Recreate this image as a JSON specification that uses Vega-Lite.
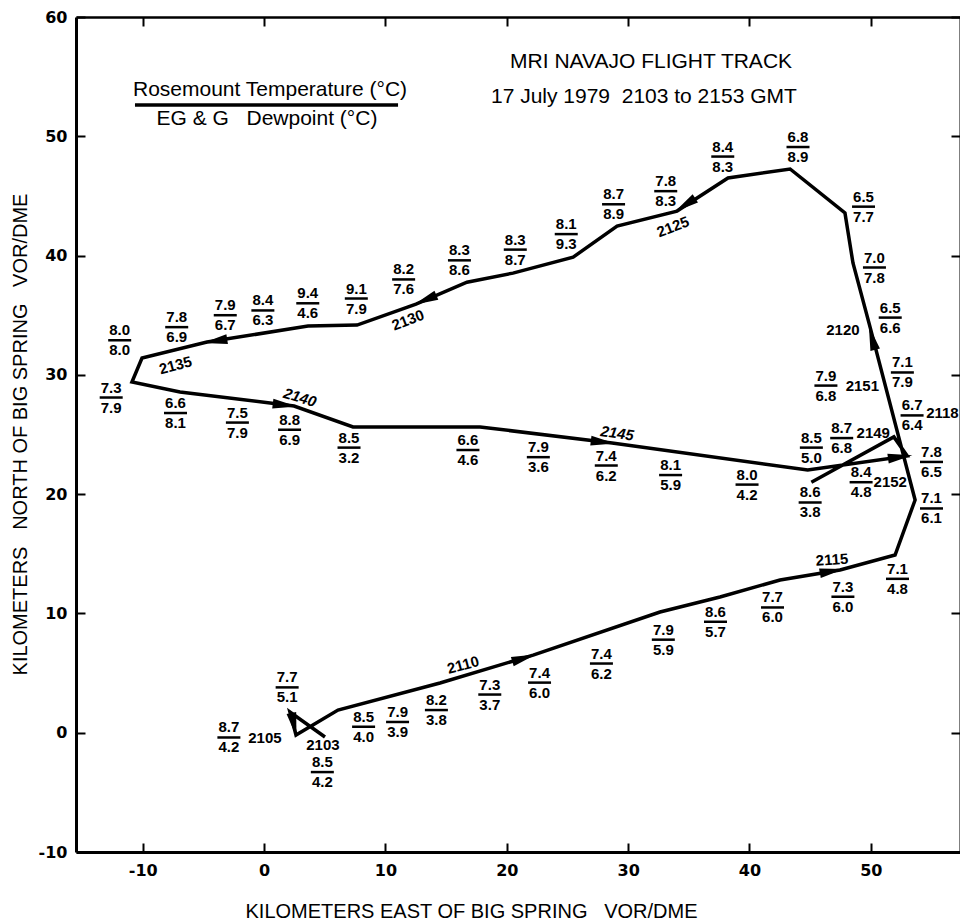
{
  "$schema": "https://vega.github.io/schema/vega-lite/v6.json",
  "width": 884,
  "height": 835,
  "autosize": {"type": "none"},
  "padding": {"left": 76, "top": 17, "right": 0, "bottom": 69},
  "background": "white",
  "config": {"view": {"stroke": null}, "font": "Liberation Sans"},
  "datasets": {
    "track": [
      {"seq": 1, "x": 5.02, "y": -0.36},
      {"seq": 2, "x": 2.13, "y": 1.73},
      {"seq": 3, "x": 2.63, "y": -0.19},
      {"seq": 4, "x": 6.09, "y": 1.9},
      {"seq": 5, "x": 14.5, "y": 4.17},
      {"seq": 6, "x": 22.17, "y": 6.51},
      {"seq": 7, "x": 32.63, "y": 10.12},
      {"seq": 8, "x": 37.57, "y": 11.38},
      {"seq": 9, "x": 42.52, "y": 12.8},
      {"seq": 10, "x": 47.46, "y": 13.64},
      {"seq": 11, "x": 52.0, "y": 14.9},
      {"seq": 12, "x": 53.65, "y": 19.51},
      {"seq": 13, "x": 49.94, "y": 34.0},
      {"seq": 14, "x": 48.53, "y": 39.38},
      {"seq": 15, "x": 47.87, "y": 43.57},
      {"seq": 16, "x": 43.35, "y": 47.26},
      {"seq": 17, "x": 38.23, "y": 46.5},
      {"seq": 18, "x": 34.03, "y": 43.73},
      {"seq": 19, "x": 29.09, "y": 42.47},
      {"seq": 20, "x": 25.47, "y": 39.87},
      {"seq": 21, "x": 20.51, "y": 38.53},
      {"seq": 22, "x": 16.72, "y": 37.77},
      {"seq": 23, "x": 12.52, "y": 35.93},
      {"seq": 24, "x": 7.66, "y": 34.17},
      {"seq": 25, "x": 3.62, "y": 34.09},
      {"seq": 26, "x": -4.7, "y": 32.75},
      {"seq": 27, "x": -10.06, "y": 31.41},
      {"seq": 28, "x": -10.89, "y": 29.4},
      {"seq": 29, "x": -6.93, "y": 28.56},
      {"seq": 30, "x": 2.47, "y": 27.39},
      {"seq": 31, "x": 7.33, "y": 25.63},
      {"seq": 32, "x": 17.8, "y": 25.63},
      {"seq": 33, "x": 28.68, "y": 24.29},
      {"seq": 34, "x": 44.8, "y": 22.02},
      {"seq": 35, "x": 53.0, "y": 23.2},
      {"seq": 36, "x": 51.9, "y": 24.8},
      {"seq": 37, "x": 45.1, "y": 21.0}
    ],
    "arrows": [
      {"x": 2.46, "y": 0.65, "heading": 168},
      {"x": 21.42, "y": 6.26, "heading": 73},
      {"x": 46.8, "y": 13.55, "heading": 80},
      {"x": 50.1, "y": 33.1, "heading": -15},
      {"x": 34.69, "y": 44.24, "heading": -123},
      {"x": 13.27, "y": 36.27, "heading": -113},
      {"x": -4.04, "y": 32.83, "heading": -99},
      {"x": 1.72, "y": 27.47, "heading": 97},
      {"x": 27.93, "y": 24.37, "heading": 97},
      {"x": 52.42, "y": 23.12, "heading": 82}
    ],
    "obs": [
      {"x": -11.9, "y": 32.9, "t": "8.0", "d": "8.0"},
      {"x": -12.6, "y": 28.1, "t": "7.3", "d": "7.9"},
      {"x": -7.2, "y": 34.0, "t": "7.8", "d": "6.9"},
      {"x": -3.2, "y": 35.0, "t": "7.9", "d": "6.7"},
      {"x": -0.1, "y": 35.4, "t": "8.4", "d": "6.3"},
      {"x": 3.6, "y": 36.0, "t": "9.4", "d": "4.6"},
      {"x": 7.6, "y": 36.4, "t": "9.1", "d": "7.9"},
      {"x": 11.5, "y": 38.0, "t": "8.2", "d": "7.6"},
      {"x": 16.1, "y": 39.6, "t": "8.3", "d": "8.6"},
      {"x": 20.7, "y": 40.5, "t": "8.3", "d": "8.7"},
      {"x": 24.9, "y": 41.8, "t": "8.1", "d": "9.3"},
      {"x": 28.8, "y": 44.3, "t": "8.7", "d": "8.9"},
      {"x": 33.1, "y": 45.4, "t": "7.8", "d": "8.3"},
      {"x": 37.8, "y": 48.3, "t": "8.4", "d": "8.3"},
      {"x": 44.0, "y": 49.1, "t": "6.8", "d": "8.9"},
      {"x": 49.4, "y": 44.1, "t": "6.5", "d": "7.7"},
      {"x": 50.3, "y": 39.0, "t": "7.0", "d": "7.8"},
      {"x": 51.6, "y": 34.8, "t": "6.5", "d": "6.6"},
      {"x": 52.6, "y": 30.2, "t": "7.1", "d": "7.9"},
      {"x": 46.3, "y": 29.1, "t": "7.9", "d": "6.8"},
      {"x": 53.4, "y": 26.6, "t": "6.7", "d": "6.4"},
      {"x": 47.6, "y": 24.7, "t": "8.7", "d": "6.8"},
      {"x": 45.1, "y": 23.9, "t": "8.5", "d": "5.0"},
      {"x": 55.0, "y": 22.7, "t": "7.8", "d": "6.5"},
      {"x": 49.2, "y": 21.0, "t": "8.4", "d": "4.8"},
      {"x": 45.0, "y": 19.3, "t": "8.6", "d": "3.8"},
      {"x": 55.0, "y": 18.8, "t": "7.1", "d": "6.1"},
      {"x": 52.2, "y": 12.9, "t": "7.1", "d": "4.8"},
      {"x": 47.7, "y": 11.4, "t": "7.3", "d": "6.0"},
      {"x": 41.9, "y": 10.5, "t": "7.7", "d": "6.0"},
      {"x": 37.2, "y": 9.3, "t": "8.6", "d": "5.7"},
      {"x": 32.9, "y": 7.8, "t": "7.9", "d": "5.9"},
      {"x": 27.8, "y": 5.8, "t": "7.4", "d": "6.2"},
      {"x": 22.7, "y": 4.2, "t": "7.4", "d": "6.0"},
      {"x": 18.6, "y": 3.2, "t": "7.3", "d": "3.7"},
      {"x": 14.2, "y": 1.9, "t": "8.2", "d": "3.8"},
      {"x": 11.0, "y": 0.9, "t": "7.9", "d": "3.9"},
      {"x": 8.2, "y": 0.5, "t": "8.5", "d": "4.0"},
      {"x": 4.8, "y": -3.3, "t": "8.5", "d": "4.2"},
      {"x": -2.9, "y": -0.4, "t": "8.7", "d": "4.2"},
      {"x": 1.9, "y": 3.8, "t": "7.7", "d": "5.1"},
      {"x": -7.3, "y": 26.8, "t": "6.6", "d": "8.1"},
      {"x": -2.2, "y": 26.0, "t": "7.5", "d": "7.9"},
      {"x": 2.1, "y": 25.4, "t": "8.8", "d": "6.9"},
      {"x": 7.0, "y": 23.9, "t": "8.5", "d": "3.2"},
      {"x": 16.8, "y": 23.7, "t": "6.6", "d": "4.6"},
      {"x": 22.6, "y": 23.1, "t": "7.9", "d": "3.6"},
      {"x": 28.2, "y": 22.4, "t": "7.4", "d": "6.2"},
      {"x": 33.5, "y": 21.6, "t": "8.1", "d": "5.9"},
      {"x": 39.8, "y": 20.8, "t": "8.0", "d": "4.2"}
    ],
    "times": [
      {"label": "2103", "x": 4.85, "y": -1.03},
      {"label": "2105", "x": 0.07, "y": -0.44},
      {"label": "2110", "x": 16.4, "y": 5.68},
      {"label": "2115", "x": 46.8, "y": 14.5},
      {"label": "2118", "x": 55.9, "y": 26.8},
      {"label": "2120", "x": 47.7, "y": 33.8},
      {"label": "2125", "x": 33.7, "y": 42.4},
      {"label": "2130", "x": 11.86, "y": 34.6},
      {"label": "2135", "x": -7.3, "y": 30.8},
      {"label": "2140", "x": 2.96, "y": 28.1},
      {"label": "2145", "x": 29.1, "y": 25.1},
      {"label": "2149", "x": 50.2, "y": 25.1},
      {"label": "2151", "x": 49.3, "y": 29.1},
      {"label": "2152", "x": 51.6, "y": 21.0}
    ],
    "notes": [
      {"text": "MRI NAVAJO FLIGHT TRACK", "x": 31.89, "y": 56.22},
      {"text": "17 July 1979\u00a0\u00a02103 to 2153 GMT", "x": 31.3, "y": 53.29},
      {"text": "Rosemount Temperature (°C)", "x": 0.49, "y": 53.87},
      {"text": "EG & G\u00a0\u00a0\u00a0Dewpoint (°C)", "x": 0.24, "y": 51.45}
    ],
    "rules": [
      {"x": -10.64, "x2": 11.04, "y": 52.62}
    ]
  },
  "resolve": {"axis": {"x": "independent", "y": "independent"}},
  "layer": [
    {
      "data": {"name": "track"},
      "mark": {"type": "line", "color": "black", "strokeWidth": 3.5, "strokeJoin": "miter"},
      "encoding": {
        "x": {
          "field": "x", "type": "quantitative",
          "scale": {"domain": [-15.5, 57.35], "nice": false, "zero": false},
          "axis": {
            "orient": "bottom", "values": [-10, 0, 10, 20, 30, 40, 50], "labelExpr": "'' + datum.value", "grid": false,
            "domainColor": "black", "domainWidth": 3, "tickColor": "black", "tickWidth": 2, "tickSize": -9,
            "labelFont": "DejaVu Sans", "labelFontSize": 16, "labelFontWeight": "bold", "labelColor": "black", "labelPadding": 19,
            "title": "KILOMETERS EAST OF BIG SPRING\u00a0\u00a0\u00a0VOR/DME", "titleFont": "Liberation Sans", "titleFontSize": 20, "titleFontWeight": "normal", "titleColor": "black",
            "titleX": 395, "titleY": 59, "titleBaseline": "middle", "titleAlign": "center"
          }
        },
        "y": {
          "field": "y", "type": "quantitative",
          "scale": {"domain": [-10, 60], "nice": false, "zero": false},
          "axis": {
            "orient": "left", "values": [-10, 0, 10, 20, 30, 40, 50, 60], "labelExpr": "'' + datum.value", "grid": false,
            "domainColor": "black", "domainWidth": 3, "tickColor": "black", "tickWidth": 2, "tickSize": -9,
            "labelFont": "DejaVu Sans", "labelFontSize": 16, "labelFontWeight": "bold", "labelColor": "black", "labelPadding": 18,
            "title": "KILOMETERS\u00a0\u00a0\u00a0NORTH OF BIG SPRING\u00a0\u00a0\u00a0VOR/DME", "titleFont": "Liberation Sans", "titleFontSize": 20, "titleFontWeight": "normal", "titleColor": "black",
            "titleX": -56, "titleY": 417, "titleBaseline": "middle", "titleAlign": "center", "titleAngle": -90
          }
        },
        "order": {"field": "seq", "type": "quantitative"}
      }
    },
    {
      "data": {"name": "track"},
      "mark": {"type": "point", "opacity": 0},
      "encoding": {
        "x": {
          "field": "x", "type": "quantitative",
          "axis": {"orient": "top", "values": [-10, 0, 10, 20, 30, 40, 50], "labels": false, "title": null, "grid": false,
            "domainColor": "black", "domainWidth": 2.5, "tickColor": "black", "tickWidth": 2, "tickSize": -9}
        },
        "y": {
          "field": "y", "type": "quantitative",
          "axis": {"orient": "right", "values": [-10, 0, 10, 20, 30, 40, 50, 60], "labels": false, "title": null, "grid": false,
            "domainColor": "black", "domainWidth": 2, "tickColor": "black", "tickWidth": 2, "tickSize": -9}
        }
      }
    },
    {
      "data": {"name": "arrows"},
      "mark": {"type": "point", "shape": "M0,-1L0.4,1L-0.4,1Z", "filled": true, "color": "black", "opacity": 1, "size": 600},
      "encoding": {
        "x": {"field": "x", "type": "quantitative", "axis": null},
        "y": {"field": "y", "type": "quantitative", "axis": null},
        "angle": {"field": "heading", "type": "quantitative", "scale": null}
      }
    },
    {
      "data": {"name": "obs"},
      "mark": {"type": "tick", "orient": "horizontal", "size": 23, "thickness": 2.5, "color": "black", "opacity": 1},
      "encoding": {
        "x": {"field": "x", "type": "quantitative", "axis": null},
        "y": {"field": "y", "type": "quantitative", "axis": null}
      }
    },
    {
      "data": {"name": "obs"},
      "mark": {"type": "text", "font": "Liberation Sans", "fontSize": 15, "fontWeight": "bold", "color": "black", "baseline": "middle", "align": "center", "dy": -10},
      "encoding": {
        "x": {"field": "x", "type": "quantitative", "axis": null},
        "y": {"field": "y", "type": "quantitative", "axis": null},
        "text": {"field": "t"}
      }
    },
    {
      "data": {"name": "obs"},
      "mark": {"type": "text", "font": "Liberation Sans", "fontSize": 15, "fontWeight": "bold", "color": "black", "baseline": "middle", "align": "center", "dy": 10},
      "encoding": {
        "x": {"field": "x", "type": "quantitative", "axis": null},
        "y": {"field": "y", "type": "quantitative", "axis": null},
        "text": {"field": "d"}
      }
    },
    {
      "data": {"name": "times"},
      "transform": [{"filter": {"field": "label", "oneOf": ["2103", "2105", "2118", "2120", "2149", "2151", "2152"]}}],
      "mark": {"type": "text", "font": "Liberation Sans", "fontSize": 15, "fontWeight": "bold", "color": "black", "baseline": "middle", "align": "center"},
      "encoding": {
        "x": {"field": "x", "type": "quantitative", "axis": null},
        "y": {"field": "y", "type": "quantitative", "axis": null},
        "text": {"field": "label"}
      }
    },
    {
      "data": {"name": "times"},
      "transform": [{"filter": {"field": "label", "equal": "2115"}}],
      "mark": {"type": "text", "font": "Liberation Sans", "fontSize": 15, "fontWeight": "bold", "color": "black", "baseline": "middle", "align": "center", "angle": 356},
      "encoding": {
        "x": {"field": "x", "type": "quantitative", "axis": null},
        "y": {"field": "y", "type": "quantitative", "axis": null},
        "text": {"field": "label"}
      }
    },
    {
      "data": {"name": "times"},
      "transform": [{"filter": {"field": "label", "oneOf": ["2110", "2135"]}}],
      "mark": {"type": "text", "font": "Liberation Sans", "fontSize": 15, "fontWeight": "bold", "color": "black", "baseline": "middle", "align": "center", "angle": 345},
      "encoding": {
        "x": {"field": "x", "type": "quantitative", "axis": null},
        "y": {"field": "y", "type": "quantitative", "axis": null},
        "text": {"field": "label"}
      }
    },
    {
      "data": {"name": "times"},
      "transform": [{"filter": {"field": "label", "oneOf": ["2125", "2130"]}}],
      "mark": {"type": "text", "font": "Liberation Sans", "fontSize": 15, "fontWeight": "bold", "color": "black", "baseline": "middle", "align": "center", "angle": 339},
      "encoding": {
        "x": {"field": "x", "type": "quantitative", "axis": null},
        "y": {"field": "y", "type": "quantitative", "axis": null},
        "text": {"field": "label"}
      }
    },
    {
      "data": {"name": "times"},
      "transform": [{"filter": {"field": "label", "equal": "2140"}}],
      "mark": {"type": "text", "font": "Liberation Sans", "fontSize": 15, "fontWeight": "bold", "fontStyle": "italic", "color": "black", "baseline": "middle", "align": "center", "angle": 17},
      "encoding": {
        "x": {"field": "x", "type": "quantitative", "axis": null},
        "y": {"field": "y", "type": "quantitative", "axis": null},
        "text": {"field": "label"}
      }
    },
    {
      "data": {"name": "times"},
      "transform": [{"filter": {"field": "label", "equal": "2145"}}],
      "mark": {"type": "text", "font": "Liberation Sans", "fontSize": 15, "fontWeight": "bold", "fontStyle": "italic", "color": "black", "baseline": "middle", "align": "center", "angle": 8},
      "encoding": {
        "x": {"field": "x", "type": "quantitative", "axis": null},
        "y": {"field": "y", "type": "quantitative", "axis": null},
        "text": {"field": "label"}
      }
    },
    {
      "data": {"name": "notes"},
      "mark": {"type": "text", "font": "Liberation Sans", "fontSize": 21, "color": "black", "baseline": "middle", "align": "center"},
      "encoding": {
        "x": {"field": "x", "type": "quantitative", "axis": null},
        "y": {"field": "y", "type": "quantitative", "axis": null},
        "text": {"field": "text"}
      }
    },
    {
      "data": {"name": "rules"},
      "mark": {"type": "rule", "color": "black", "strokeWidth": 3.5},
      "encoding": {
        "x": {"field": "x", "type": "quantitative", "axis": null},
        "x2": {"field": "x2"},
        "y": {"field": "y", "type": "quantitative", "axis": null}
      }
    }
  ]
}
